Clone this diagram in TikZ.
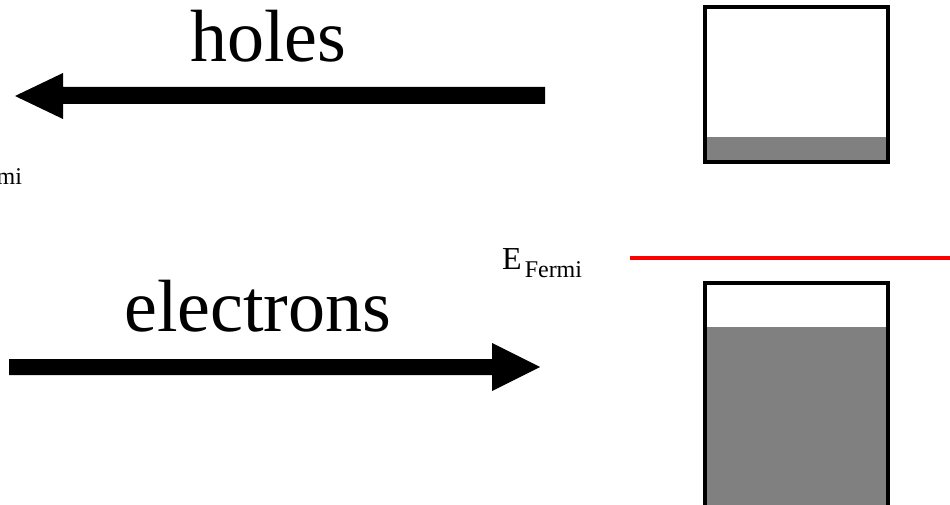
\documentclass[tikz,border=0pt]{standalone}
\usepackage{fontspec}
\setmainfont{Liberation Serif}
\tikzset{
  bigtext/.style={inner sep=0pt, anchor=base west, font=\fontsize{74}{80}\selectfont},
  fermilabel/.style={inner sep=0pt, anchor=base west},
  fatarrow/.style={fill=black},
  bandbox/.style={draw=black, line width=4pt},
  bandfill/.style={fill=black!50},
  fermiline/.style={draw=red, line width=4pt}
}
\newcommand{\efermi}{{\fontsize{32}{34}\selectfont E}\hspace{3pt}\raisebox{-8pt}{\fontsize{24}{26}\selectfont Fermi}}
\begin{document}
\begin{tikzpicture}[x=1pt,y=-1pt]
\useasboundingbox (0,0) rectangle (950,505);
\clip (0,0) rectangle (950,505);
% texts
\node[bigtext] (holes) at (190,62) {holes};
\node[bigtext] (electrons) at (124,331) {electrons};
\node[fermilabel] (ef) at (502,269) {\efermi};
\node[fermilabel] (efleft) at (-58,177) {\efermi};
% holes arrow (pointing left)
\fill[fatarrow] (545,87) -- (63,87) -- (63,73) -- (15,96) -- (63,119) -- (63,104) -- (545,104) -- cycle;
% electrons arrow (pointing right)
\fill[fatarrow] (9,359) -- (492,359) -- (492,343) -- (540,367) -- (492,391) -- (492,375) -- (9,375) -- cycle;
% Fermi level
\draw[fermiline] (630,258) -- (955,258);
% top band box
\fill[bandfill] (705,137) rectangle (888,162);
\draw[bandbox] (705,7) rectangle (888,162);
% bottom band box
\fill[bandfill] (705,327) rectangle (888,520);
\draw[bandbox] (705,520) -- (705,283) -- (888,283) -- (888,520);
\end{tikzpicture}
\end{document}
